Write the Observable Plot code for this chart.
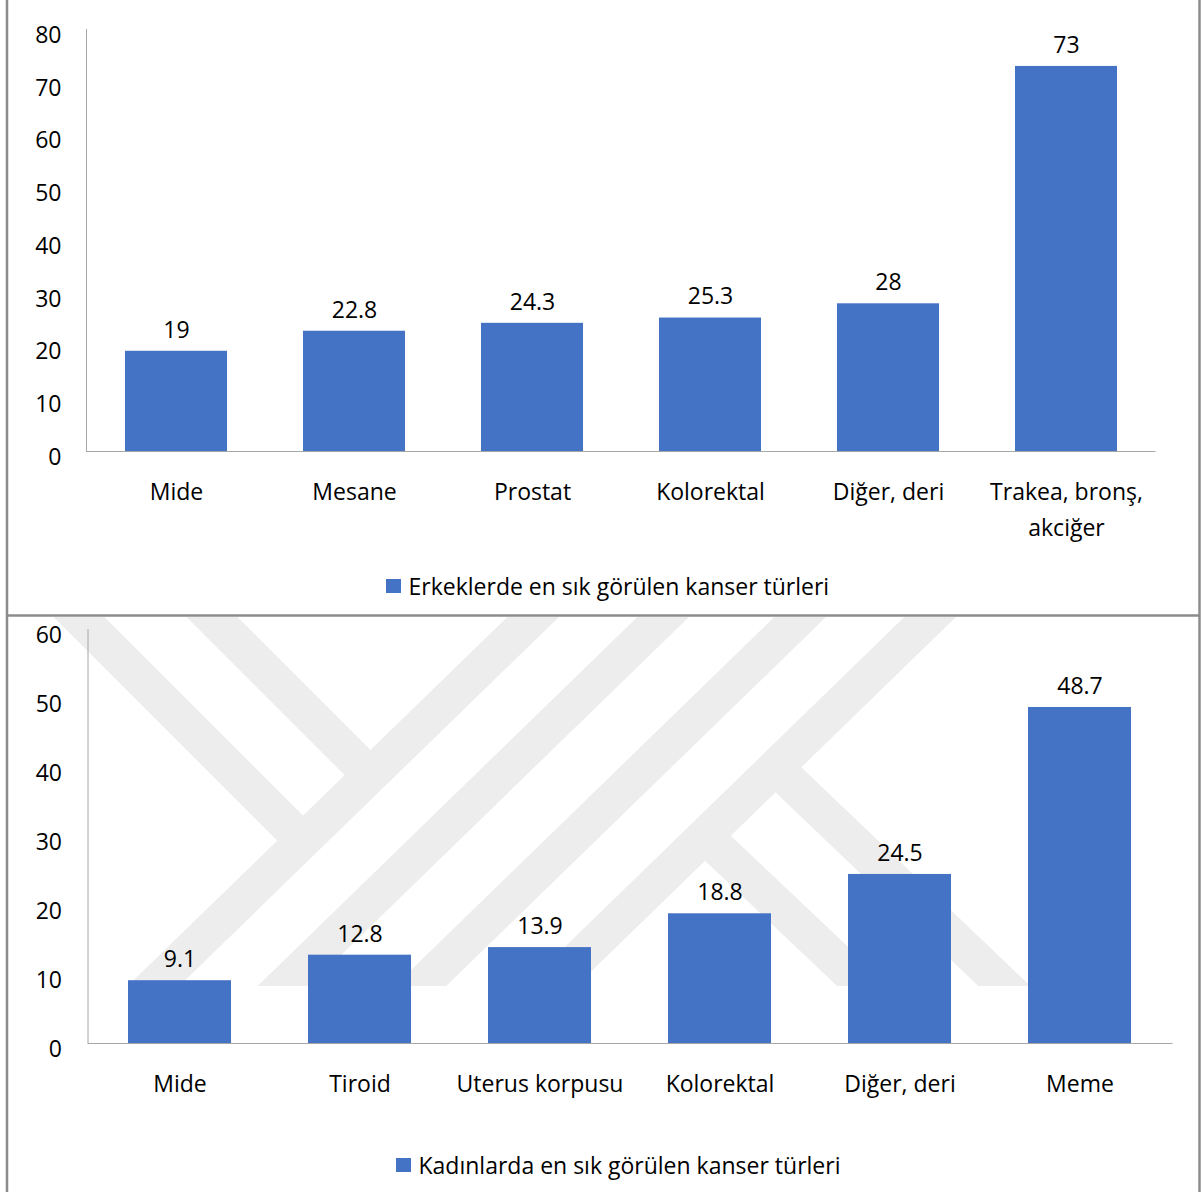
<!DOCTYPE html>
<html>
<head>
<meta charset="utf-8">
<script src="https://cdn.jsdelivr.net/npm/d3@7"></script>
<script src="https://cdn.jsdelivr.net/npm/@observablehq/plot@0.6"></script>
<style>
  body { margin: 0; background: #fff; font-family: "Open Sans", sans-serif; }
  #page { position: relative; width: 1202px; height: 1192px; overflow: hidden; background: #fff; }
  .layer { position: absolute; left: 0; }
  .legend { position: absolute; display: flex; align-items: center; height: 32px;
            font-size: 23px; color: #000; white-space: nowrap; }
  .legend .swatch { width: 14.5px; height: 14.5px; background: #4472c4; margin-right: 8px; }
</style>
</head>
<body>
<div id="page"></div>
<script>
// Men: most common cancer types
const menCategories = ["Mide", "Mesane", "Prostat", "Kolorektal", "Diğer, deri", "Trakea, bronş, akciğer"];
const menValues = [19, 22.8, 24.3, 25.3, 28, 73];
const menTicks = [0, 10, 20, 30, 40, 50, 60, 70, 80];
const menLegend = "Erkeklerde en sık görülen kanser türleri";

// Women: most common cancer types
const womenCategories = ["Mide", "Tiroid", "Uterus korpusu", "Kolorektal", "Diğer, deri", "Meme"];
const womenValues = [9.1, 12.8, 13.9, 18.8, 24.5, 48.7];
const womenTicks = [0, 10, 20, 30, 40, 50, 60];
const womenLegend = "Kadınlarda en sık görülen kanser türleri";

// Category names that wrap onto two lines under the axis
const wrappedLabels = {"Trakea, bronş, akciğer": "Trakea, bronş,\nakciğer"};

const BAR = "#4472c4";
const AXIS = "#a6a6a6";
const BORDER = "#8c8c8c";
const WATERMARK = "#ededed";

const page = document.getElementById("page");

// Background layer: panel borders and the faint logo watermark in the lower panel
const bg = d3.select(page).append("svg")
  .attr("class", "layer").style("top", "0px")
  .attr("width", 1202).attr("height", 1192);

bg.append("clipPath").attr("id", "wm-clip")
  .append("rect").attr("x", 8).attr("y", 617).attr("width", 1190).attr("height", 369);

// logo stripes as centre lines [x1, y1, x2, y2]
const watermarkStripes = [
  [50, 588, 305, 843],
  [183, 588, 380, 785],
  [563, 588, 139, 1000],
  [693, 588, 269, 1000],
  [830, 588, 406, 1000],
  [960, 588, 536, 1000],
  [775, 767, 1019, 1000],
  [705, 836, 878, 1000]
];
bg.append("g").attr("clip-path", "url(#wm-clip)")
  .selectAll("line").data(watermarkStripes).join("line")
  .attr("x1", d => d[0]).attr("y1", d => d[1])
  .attr("x2", d => d[2]).attr("y2", d => d[3])
  .attr("stroke", WATERMARK).attr("stroke-width", 36).attr("stroke-linecap", "butt");

const frame = bg.append("g").attr("stroke", BORDER).attr("stroke-width", 2.5);
frame.append("line").attr("x1", 7).attr("x2", 7).attr("y1", 0).attr("y2", 1192);
frame.append("line").attr("x1", 1199.5).attr("x2", 1199.5).attr("y1", 0).attr("y2", 1192);
frame.append("line").attr("x1", 7).attr("x2", 1199.5).attr("y1", 615.5).attr("y2", 615.5);

function barChart({categories, values, ticks, top, height, marginTop, marginBottom, marginLeft, marginRight, yPad}) {
  const data = categories.map((category, i) => ({category, value: values[i]}));
  const chart = Plot.plot({
    width: 1202,
    height,
    marginTop, marginBottom, marginLeft, marginRight,
    style: {background: "transparent", color: "#000", fontFamily: "'Open Sans', sans-serif", fontSize: "23px", overflow: "visible"},
    x: {domain: categories, paddingInner: 0.425, paddingOuter: 0.2125},
    y: {domain: [0, d3.max(ticks)]},
    marks: [
      Plot.barY(data, {x: "category", y: "value", fill: BAR}),
      Plot.ruleY([0], {stroke: AXIS, strokeWidth: 1}),
      Plot.text(data, {x: "category", y: "value", text: d => String(d.value), dy: -21, fill: "#000", fontSize: 23}),
      Plot.axisY({ticks, tickSize: 0, tickPadding: yPad, dy: 6, fontSize: 23, fill: "#000", label: null}),
      Plot.axisX({tickSize: 0, tickPadding: 22, tickFormat: c => wrappedLabels[c] ?? c,
                  lineHeight: 1.6, fontSize: 23, fill: "#000", label: null})
    ]
  });
  // vertical value-axis line along the left edge of the plot area
  const y = chart.scale("y");
  d3.select(chart).append("line")
    .attr("x1", marginLeft + 0.5).attr("x2", marginLeft + 0.5)
    .attr("y1", y.range[1]).attr("y2", y.range[0])
    .attr("stroke", AXIS);
  chart.classList.add("layer");
  chart.style.top = top + "px";
  page.appendChild(chart);
}

function legend(text, left, centerY) {
  const div = document.createElement("div");
  div.className = "legend";
  div.style.left = left + "px";
  div.style.top = (centerY - 16) + "px";
  const sw = document.createElement("span");
  sw.className = "swatch";
  const label = document.createElement("span");
  label.textContent = text;
  div.append(sw, label);
  page.appendChild(div);
}

barChart({
  categories: menCategories, values: menValues, ticks: menTicks,
  top: 0, height: 560, marginTop: 29, marginBottom: 109, marginLeft: 86, marginRight: 46.5, yPad: 25
});
legend(menLegend, 386, 586);

barChart({
  categories: womenCategories, values: womenValues, ticks: womenTicks,
  top: 617, height: 520, marginTop: 12, marginBottom: 94, marginLeft: 87.5, marginRight: 29.5, yPad: 26
});
legend(womenLegend, 396, 1165);
</script>
</body>
</html>
